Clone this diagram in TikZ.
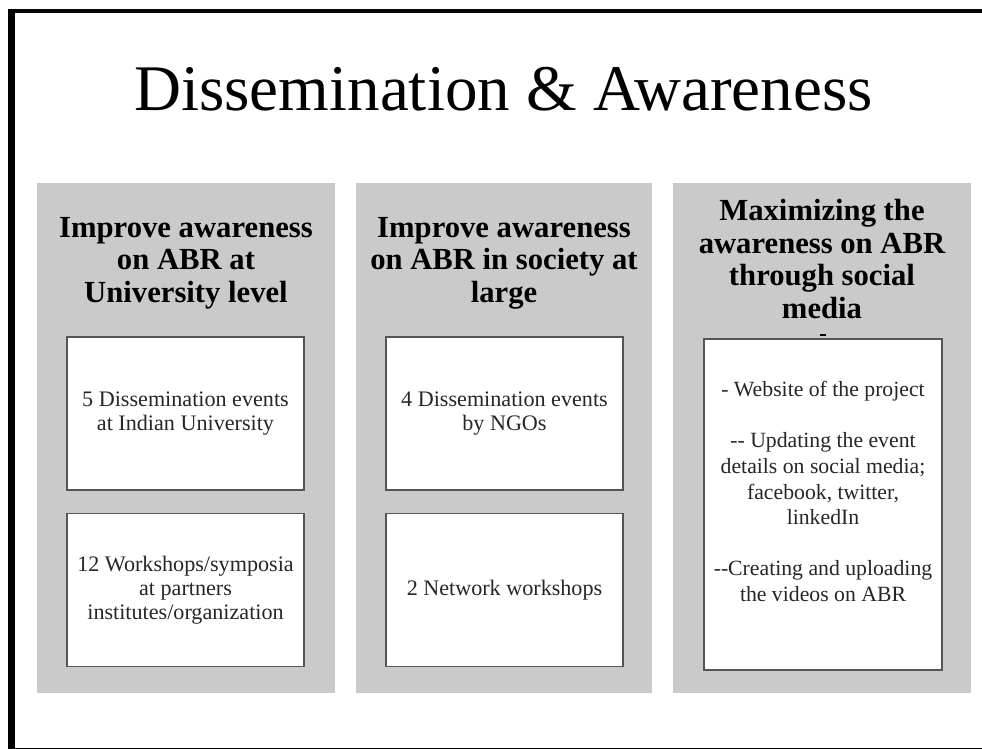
\documentclass[tikz,border=0pt]{standalone}
\usepackage{fontspec}
\setmainfont{Liberation Serif}
\definecolor{panelgray}{HTML}{CACACA}
\definecolor{boxline}{HTML}{555555}
\definecolor{bodytext}{HTML}{262626}
\definecolor{baseline}{HTML}{888888}
\tikzset{
  panel/.style={fill=panelgray, draw=none},
  itembox/.style={draw=boxline, line width=1.1pt, fill=white, inner sep=0pt,
    minimum width=177.75pt, minimum height=114.75pt},
  heading/.style={font=\fontsize{23}{24.4}\selectfont\bfseries, align=center, text=black, inner sep=0pt},
  body/.style={font=\fontsize{16.6}{18}\selectfont, align=center, text=bodytext},
  bodybig/.style={font=\fontsize{16.3}{19.2}\selectfont, align=center, text=bodytext, inner sep=0pt},
}
\begin{document}
\begin{tikzpicture}[x=0.75pt, y=-0.75pt]
\useasboundingbox (0,0) rectangle (982,749);
% slide frame
\fill[black] (8,9.5) rectangle (982,13.3);
\fill[black] (8,9.5) rectangle (15,749);
\fill[baseline] (15,747.6) rectangle (982,749);

% title
\node[font=\fontsize{48.8}{50}\selectfont, anchor=base, inner sep=0pt] (title) at (503.5,110) {Dissemination \& Awareness};

% panels
\path[panel] (37,183) rectangle (335,693);
\path[panel] (356,183) rectangle (652,693);
\path[panel] (673,183) rectangle (971,693);

% headings
\node[heading] (h1) at (186,263) {Improve awareness\\on ABR at\\University level};
\node[heading] (h2) at (504,263) {Improve awareness\\on ABR in society at\\large};
\node[heading] (h3) at (822,259) {Maximizing the\\awareness on ABR\\through social\\media};

% boxes, column 1
\node[itembox, body] (b11) at (185.5,413.5) {5 Dissemination events\\at Indian University};
\node[itembox, body] (b12) at (185.5,590) {12 Workshops/symposia\\at partners\\institutes/organization};

% boxes, column 2
\node[itembox, body] (b21) at (504.5,413.5) {4 Dissemination events\\by NGOs};
\node[itembox, body] (b22) at (504.5,590) {2 Network workshops};

% box, column 3
\node[itembox, minimum width=178.5pt, minimum height=248.25pt] (b31) at (823,504.5) {};
\node[bodybig] (t31) at (823,491.5) {- Website of the project\\[19.2pt]
-{}- Updating the event\\details on social media;\\facebook, twitter,\\linkedIn\\[19.2pt]
-{}-Creating and uploading\\the videos on ABR};
\draw[black, line width=1.4pt] ([xshift=-2pt,yshift=2.4pt]b31.north) -- ([xshift=2pt,yshift=2.4pt]b31.north);
\end{tikzpicture}
\end{document}
